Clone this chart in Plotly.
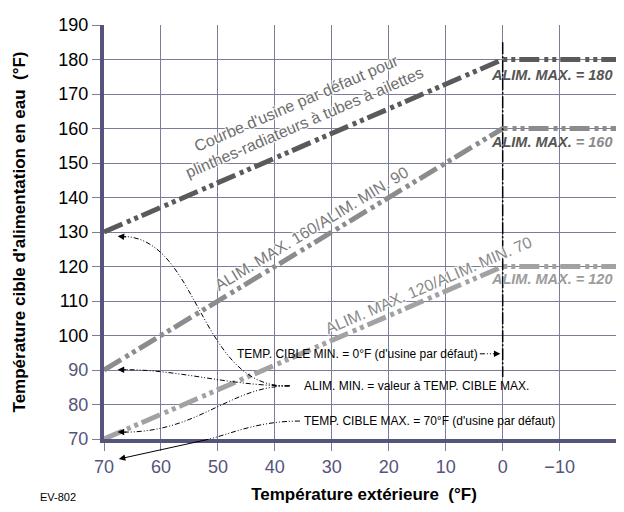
import plotly.graph_objects as go

# outdoor temperature breakpoints (°F) and target supply temperatures (°F)
outdoor = [70, 0, -22]
curve_default = [130, 180, 180]   # factory default baseboard curve
curve_160_90 = [90, 160, 160]
curve_120_70 = [70, 120, 120]

x_ticks = [70, 60, 50, 40, 30, 20, 10, 0, -10, -20]
y_ticks = [70, 80, 90, 100, 110, 120, 130, 140, 150, 160, 170, 180, 190]

PURPLE = "#55547a"
GRID = "#7d7b9c"
SANS = "Liberation Sans, Arial, Helvetica, sans-serif"
NARROW = "Liberation Sans Narrow, Arial Narrow, Liberation Sans, sans-serif"
DASH = "20px,5px,4px,4px,4px,4px"
HALO = "1px 1px 1px #fff, 1px -1px 1px #fff, -1px 1px 1px #fff, -1px -1px 1px #fff"

fig = go.Figure()
for yv, col in [(curve_default, "#5a5a5a"), (curve_160_90, "#8c8c8c"), (curve_120_70, "#a2a2a2")]:
    fig.add_trace(go.Scatter(x=outdoor, y=yv, mode="lines",
                             line=dict(color=col, width=5, dash=DASH),
                             hoverinfo="skip", showlegend=False))

ytext = []
for v in y_ticks:
    if v <= 90:
        ytext.append("<span style='color:%s'>%d</span>" % (PURPLE, v))
    else:
        ytext.append(str(v))

# page body has an 8px margin, so the figure is kept smaller than the window
fig.update_layout(
    width=616, height=496,
    margin=dict(l=96, r=0, t=17, b=65),
    paper_bgcolor="white", plot_bgcolor="white",
    font=dict(family=SANS, color="black"),
    xaxis=dict(range=[70, -21.3], tickvals=x_ticks, showgrid=True, automargin=False,
               gridcolor=GRID, gridwidth=1.4, zeroline=False,
               showline=True, linecolor=PURPLE, linewidth=4,
               ticks="outside", ticklen=8, tickcolor=GRID, tickwidth=1.4,
               tickfont=dict(size=18, color=PURPLE),
               title=dict(text="<b>Température extérieure  (°F)</b>",
                          font=dict(size=17, color="black"), standoff=14)),
    yaxis=dict(range=[70, 190], tickvals=y_ticks, ticktext=ytext, automargin=False,
               showgrid=True, gridcolor=GRID, gridwidth=1.4, zeroline=False,
               showline=True, linecolor=PURPLE, linewidth=4,
               ticks="outside", ticklen=8, tickcolor=GRID, tickwidth=1.4,
               tickfont=dict(size=18, color="black"),
               title=dict(text="<b>Température cible d'alimentation en eau  (°F)</b>",
                          font=dict(size=17, color="black"), standoff=29)),
)

# vertical marker at 0 °F
fig.add_shape(type="line", x0=0, x1=0, y0=185, y1=88, xref="x", yref="y",
              line=dict(color="black", width=1.5, dash="12px,2px,2px,2px"))
# dashed lead from the MIN label to the 0 °F line
fig.add_shape(type="line", x0=4.0, x1=1.0, y0=94.7, y1=94.7, xref="x", yref="y",
              line=dict(color="black", width=1, dash="5px,2px,1px,2px,1px,2px"))

# callout curves (cubic paths in data units)
callouts = [
    "M 37.4,85.4 C 53.2,84.2 53.2,127.8 66.4,128.7",
    "M 37.4,85.4 C 47.9,85.4 56.7,90.1 66.4,90.1",
    "M 37.4,85.4 C 47.9,85.4 53.2,72.0 66.4,72.0",
    "M 35.6,75.2 C 42.6,75.2 47.0,72.0 51.4,70.0",
]
for p in callouts:
    fig.add_shape(type="path", path=p, xref="x", yref="y",
                  line=dict(color="black", width=1, dash="5px,2px,1px,2px,1px,2px"))

# arrow heads (tail offset in px)
heads = [(67.6, 128.8, 10, 1), (67.6, 90.1, 10, 0), (67.6, 72.0, 10, 0), (0.4, 94.7, -8, 0)]
for hx, hy, ax, ay in heads:
    fig.add_annotation(x=hx, y=hy, xref="x", yref="y", text="", showarrow=True,
                       ax=ax, ay=ay, arrowhead=2, arrowsize=1.3,
                       arrowwidth=1, arrowcolor="black")
# lower part of the TEMP. CIBLE MAX. callout (below the axis)
fig.add_annotation(x=67.4, y=64.2, xref="x", yref="y", axref="x", ayref="y",
                   ax=51.4, ay=70.0, text="", showarrow=True, arrowhead=2,
                   arrowsize=1.3, arrowwidth=1, arrowcolor="black")

# notes
notes = [
    (47.0, 94.7, "TEMP. CIBLE MIN. = 0°F (d'usine par défaut)"),
    (35.3, 85.4, "ALIM. MIN. = valeur à TEMP. CIBLE MAX."),
    (35.3, 75.2, "TEMP. CIBLE MAX. = 70°F (d'usine par défaut)"),
]
for nx, ny, t in notes:
    fig.add_annotation(x=nx, y=ny, xref="x", yref="y", xanchor="left", text=t,
                       showarrow=False, font=dict(family=NARROW, size=12, color="black"))

# labels along the curves
fig.add_annotation(x=35.5, y=164.4, xref="x", yref="y", textangle=-23.3,
                   text="Courbe d'usine par défaut pour<br>plinthes-radiateurs à tubes à ailettes",
                   showarrow=False, font=dict(size=16, color="#6e6e6e", shadow=HALO))
fig.add_annotation(x=33.5, y=131.0, xref="x", yref="y", textangle=-31.3,
                   text="ALIM. MAX. 160/ALIM. MIN. 90",
                   showarrow=False, font=dict(size=16, color="#7a7a7a", shadow=HALO))
fig.add_annotation(x=13.1, y=114.5, xref="x", yref="y", textangle=-23.3,
                   text="ALIM. MAX. 120/ALIM. MIN. 70",
                   showarrow=False, font=dict(size=16, color="#8a8a8a", shadow=HALO))

# right-hand max labels
right_labels = [
    (175.5, "<b><i>ALIM. MAX. = 180</i></b>"),
    (156.0, "<b><i>ALIM. MAX. <span style='color:#8a8a8a'>= 160</span></i></b>"),
    (116.5, "<b><i><span style='color:#9c9c9c'>ALIM. MAX. = 120</span></i></b>"),
]
for yv, t in right_labels:
    fig.add_annotation(x=-8.5, y=yv, xref="x", yref="y", text=t, showarrow=False,
                       font=dict(size=14.5, color="#555555"))

fig.add_annotation(x=-0.127, y=-0.14, xref="paper", yref="paper", yanchor="middle",
                   text="EV-802", showarrow=False, font=dict(size=11, color="black"))

fig.write_html("out.html")
